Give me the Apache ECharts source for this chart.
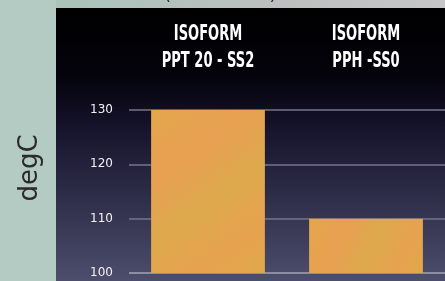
<!DOCTYPE html>
<html>
<head>
<meta charset="utf-8">
<script src="https://cdn.jsdelivr.net/npm/echarts@6/dist/echarts.min.js"></script>
<style>
  html, body { margin: 0; padding: 0; background: #b4cbc4; }
  #chart { width: 445px; height: 281px; }
</style>
</head>
<body>
<div id="chart"></div>
<script>
const categories = ['ISOFORM\nPPT 20 - SS2', 'ISOFORM\nPPH -SS0'];
const values = [130, 110];
const yTicks = [100, 110, 120, 130];

const chart = echarts.init(document.getElementById('chart'));

const backdrop = [
  // left light panel
  { type: 'rect', z: -30, shape: { x: 0, y: 0, width: 445, height: 281 },
    style: { fill: '#b4cbc4' } },
  // top strip
  { type: 'rect', z: -29, shape: { x: 56, y: 0, width: 389, height: 8 },
    style: { fill: new echarts.graphic.LinearGradient(0, 0, 1, 0, [
      { offset: 0, color: '#aac4ba' },
      { offset: 0.6, color: '#bdbfbf' },
      { offset: 1, color: '#c6c6c8' }
    ]) } },
  { type: 'text', z: -28, left: 164, top: -14,
    style: { text: '(mean ± sd)', fontSize: 18, fill: '#2a2a2a',
      fontFamily: 'DejaVu Sans' } },
  // dark panel
  { type: 'rect', z: -27, shape: { x: 56, y: 8, width: 389, height: 273 },
    style: { fill: new echarts.graphic.LinearGradient(0, 0, 0, 1, [
      { offset: 0, color: '#000000' },
      { offset: 0.25, color: '#04030c' },
      { offset: 0.45, color: '#17142d' },
      { offset: 1, color: '#4c4e6c' }
    ]) } },
  // y label
  { type: 'text', z: 5, x: 30, y: 168, rotation: Math.PI / 2,
    style: { text: 'degC', fontSize: 26, fill: '#2b2b2b', fontFamily: 'DejaVu Sans',
      align: 'center', verticalAlign: 'middle' } }
];

const option = {
  animation: false,
  graphic: backdrop,
  grid: { left: 129, right: 0, top: 110, bottom: 8 },
  xAxis: {
    type: 'category',
    position: 'top',
    data: categories,
    axisLine: { show: false },
    axisTick: { show: false },
    axisLabel: { show: false }
  },
  yAxis: {
    type: 'value',
    min: yTicks[0],
    max: yTicks[yTicks.length - 1],
    interval: 10,
    axisLine: { show: false },
    axisTick: { show: false },
    axisLabel: {
      margin: 16,
      color: '#f2f2f2',
      fontFamily: 'DejaVu Sans',
      fontSize: 12
    },
    splitLine: {
      lineStyle: { color: ['#a2a4b6', '#74768c', '#74768c', '#74768c'], width: 1.5 }
    }
  },
  series: [{
    type: 'bar',
    data: values,
    barWidth: '72%',
    itemStyle: {
      color: new echarts.graphic.LinearGradient(0, 0, 1, 1, [
        { offset: 0, color: '#e4a64c' },
        { offset: 0.3, color: '#e8a052' },
        { offset: 0.55, color: '#dda94c' },
        { offset: 0.8, color: '#e7a24f' },
        { offset: 1, color: '#e0a84a' }
      ]),
      shadowBlur: 3,
      shadowColor: 'rgba(0,0,0,0.5)'
    }
  }]
};

chart.setOption(option);

// condensed category labels above the plot, placed at the category positions
const catLabels = categories.map(function (c, i) {
  const px = chart.convertToPixel({ xAxisIndex: 0 }, c);
  return {
    type: 'text', z: 10, x: px, y: 48, scaleX: 0.66,
    style: {
      text: c, fill: '#ffffff', fontSize: 22, lineHeight: 27, fontWeight: 'bold',
      fontFamily: 'DejaVu Sans Condensed', align: 'center', verticalAlign: 'middle'
    }
  };
});
chart.setOption({ graphic: backdrop.concat(catLabels) });

window.addEventListener('resize', chart.resize);
</script>
</body>
</html>
